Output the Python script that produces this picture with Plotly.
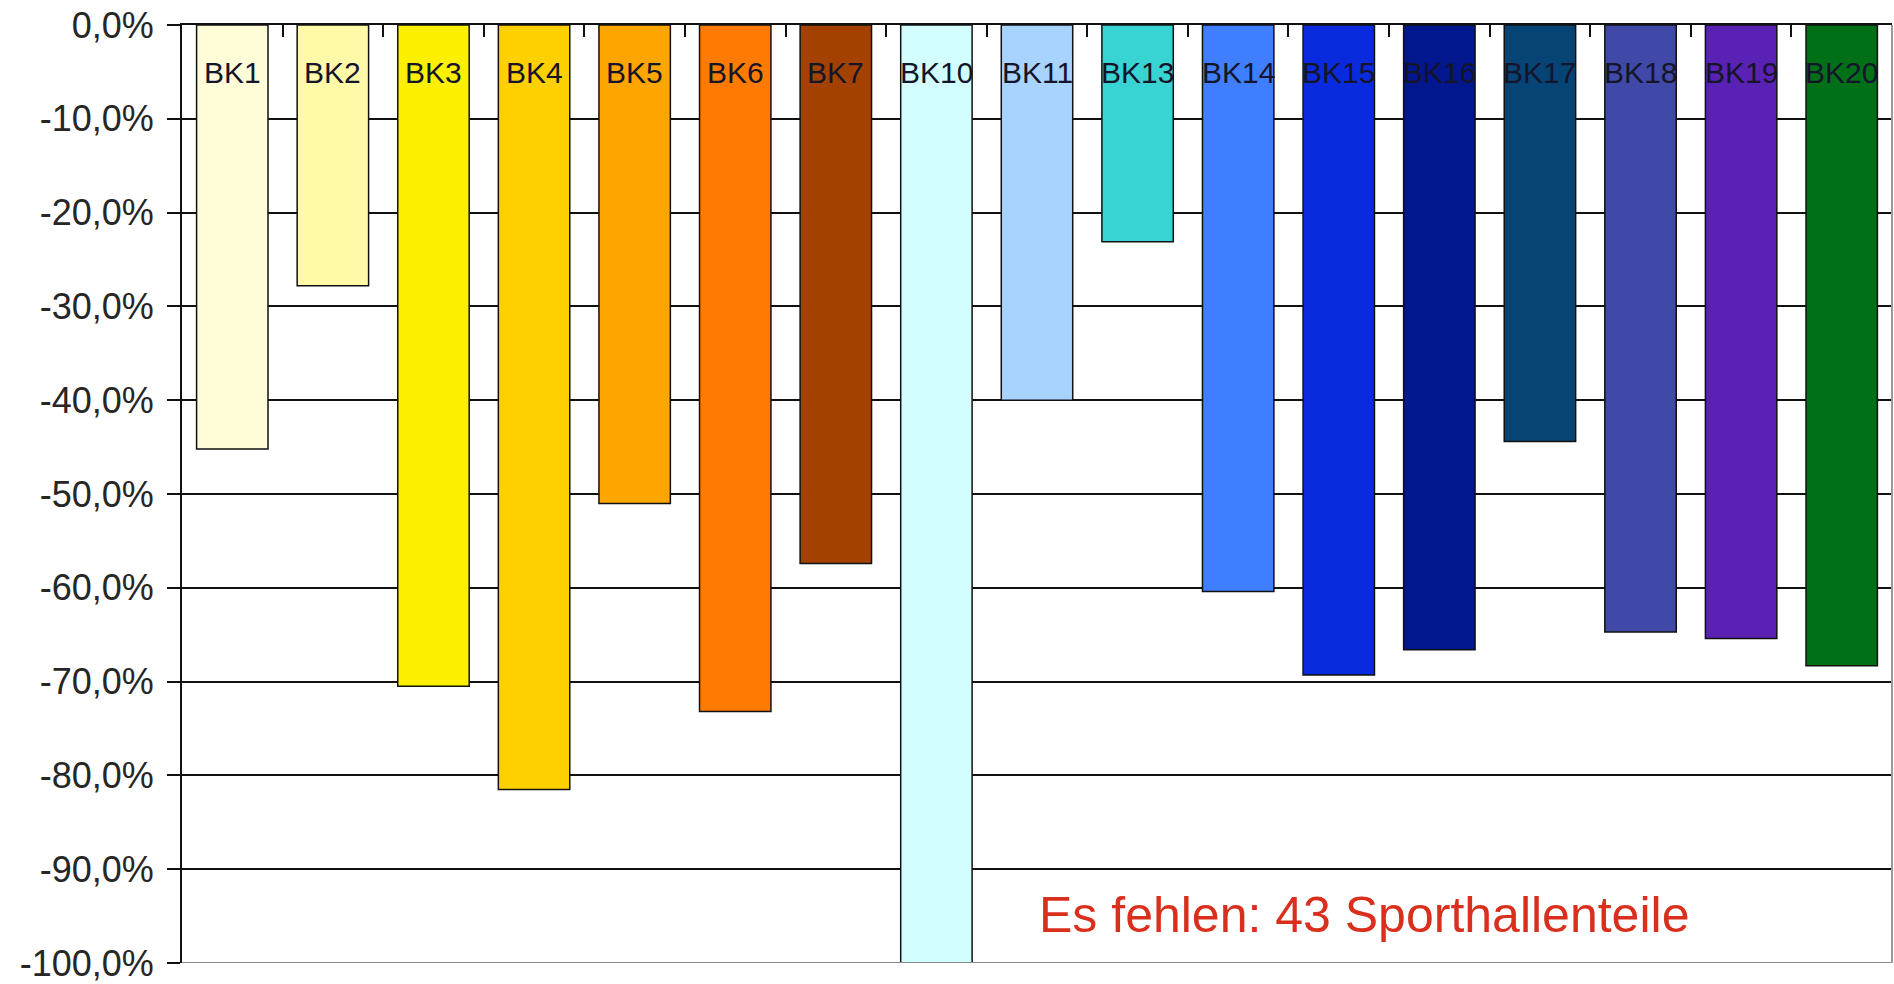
import plotly.graph_objects as go

categories = ["BK1", "BK2", "BK3", "BK4", "BK5", "BK6", "BK7", "BK10", "BK11",
              "BK13", "BK14", "BK15", "BK16", "BK17", "BK18", "BK19", "BK20"]
values = [-45.2, -27.8, -70.5, -81.5, -51.0, -73.2, -57.4, -100.0, -40.0,
          -23.1, -60.4, -69.3, -66.6, -44.4, -64.7, -65.4, -68.3]
bar_colors = ["#FFFCD8", "#FFF9A8", "#FCF000", "#FFD000", "#FFA500", "#FF7A00",
              "#A34200", "#D2FEFF", "#A8D3FF", "#38D4D4", "#3F7FFF", "#0A2ADD",
              "#02168E", "#054475", "#4048A8", "#5A22B4", "#007018"]
y_tick_values = [0, -10, -20, -30, -40, -50, -60, -70, -80, -90, -100]
y_tick_labels = ["0,0%", "-10,0%", "-20,0%", "-30,0%", "-40,0%", "-50,0%",
                 "-60,0%", "-70,0%", "-80,0%", "-90,0%", "-100,0%"]
label_level = -5.1
note_text = "Es fehlen: 43 Sporthallenteile"
note_level = -94.9

FONT = "Liberation Sans, Arial, sans-serif"

fig = go.Figure()
fig.add_trace(go.Bar(
    x=categories, y=values,
    marker=dict(color=bar_colors, line=dict(color="#111111", width=1.5)),
    hoverinfo="x+y",
))

for cat in categories:
    fig.add_annotation(x=cat, y=label_level, text=cat, showarrow=False,
                       xref="x", yref="y", yanchor="middle",
                       font=dict(family=FONT, size=30, color="#15152a"))

fig.add_annotation(x=0.5, y=note_level, xref="paper", yref="y", text=note_text,
                   showarrow=False, xanchor="left", yanchor="middle",
                   font=dict(family=FONT, size=50, color="#D9301E"))

# frame lines (bottom & right, grey)
fig.add_shape(type="line", xref="paper", yref="y", x0=0, x1=1, y0=-100, y1=-100,
              line=dict(color="#8a8a8a", width=2), layer="above")
fig.add_shape(type="line", xref="paper", yref="paper", x0=1, x1=1, y0=0, y1=1,
              line=dict(color="#9a9a9a", width=2), layer="above")

fig.update_layout(
    width=1894, height=984,
    margin=dict(l=182, r=2, t=25, b=21),
    paper_bgcolor="white", plot_bgcolor="white",
    bargap=0.29, showlegend=False,
    font=dict(family=FONT, color="#262626"),
    xaxis=dict(
        type="category", side="top", showticklabels=False,
        showline=True, linecolor="#111111", linewidth=2,
        ticks="inside", tickson="boundaries", ticklen=12, tickwidth=2,
        tickcolor="#111111", showgrid=False, automargin=False,
        range=[-0.5, len(categories) - 0.5],
    ),
    yaxis=dict(
        range=[-100, 0], tickvals=y_tick_values, ticktext=y_tick_labels,
        showline=True, linecolor="#111111", linewidth=2,
        ticks="outside", ticklen=13, tickwidth=2, tickcolor="#111111",
        showgrid=True, gridcolor="#111111", gridwidth=1.5,
        zeroline=False, automargin=False, ticklabeloverflow="allow",
        ticklabelstandoff=6,
        tickfont=dict(family=FONT, size=36, color="#262626"),
    ),
)

fig.write_html("out.html", config={"displayModeBar": False})

# remove default page margin so the figure sits at the window origin
with open("out.html", "r", encoding="utf-8") as f:
    html = f.read()
html = html.replace("<body>", '<body style="margin:0;overflow:hidden">', 1)
with open("out.html", "w", encoding="utf-8") as f:
    f.write(html)
